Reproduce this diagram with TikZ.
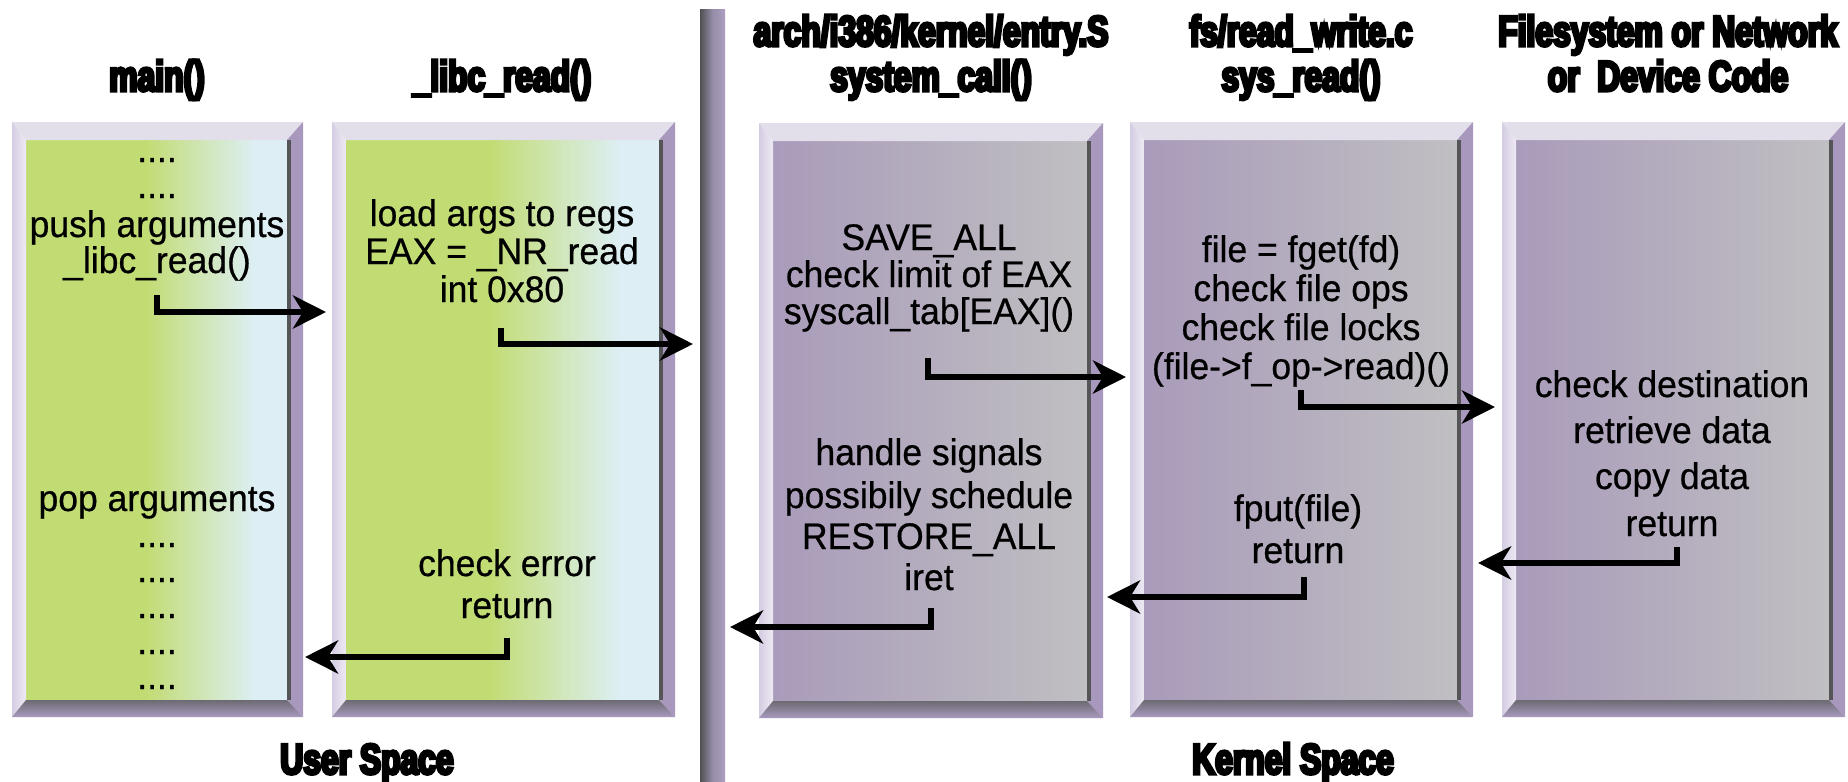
\documentclass[tikz,border=0pt]{standalone}
\usepackage{fontspec}
\setmainfont{Liberation Sans}[FakeStretch=0.96, FakeBold=0.6]
\newfontfamily\titlefont{Liberation Sans}[FakeStretch=0.74, BoldFeatures={FakeBold=7}]
\usetikzlibrary{arrows.meta}

\definecolor{ugreen}{RGB}{194,220,116}
\definecolor{ublue}{RGB}{221,239,245}
\definecolor{kpurple}{RGB}{169,155,186}
\definecolor{kgray}{RGB}{192,191,194}
\definecolor{bevtopc}{RGB}{226,222,234}
\definecolor{bevlA}{RGB}{212,204,226}
\definecolor{bevlB}{RGB}{238,234,244}
\definecolor{bevrightc}{RGB}{168,152,190}
\definecolor{bevdark}{RGB}{85,85,88}
\definecolor{bevbA}{RGB}{108,106,114}
\definecolor{bevbB}{RGB}{168,154,190}
\definecolor{divA}{RGB}{80,80,84}
\definecolor{divB}{RGB}{150,140,168}
\definecolor{divC}{RGB}{172,158,194}

\pgfdeclarehorizontalshading{usershade}{100bp}{color(0bp)=(ugreen); color(25bp)=(ugreen); color(48bp)=(ugreen); color(69bp)=(ublue); color(75bp)=(ublue); color(100bp)=(ublue)}

\newcommand\fourdots{.\kern0pt.\kern0pt.\kern0pt.}

\newcommand\bevbox[5]{%
  \pgfmathsetmacro\bxL{#1+14}\pgfmathsetmacro\bxT{#2+18}%
  \pgfmathsetmacro\bxR{#3-16}\pgfmathsetmacro\bxB{#4-17}%
  \shade[#5] (\bxL,\bxT) rectangle (\bxR,\bxB);
  \fill[bevtopc] (#1,#2) -- (#3,#2) -- (\bxR,\bxT) -- (\bxL,\bxT) -- cycle;
  \shade[left color=bevlA, right color=bevlB] (#1,#2) -- (\bxL,\bxT) -- (\bxL,\bxB) -- (#1,#4) -- cycle;
  \fill[bevrightc] (#3,#2) -- (#3,#4) -- (\bxR,\bxB) -- (\bxR,\bxT) -- cycle;
  \fill[bevdark] (\bxR,\bxT) rectangle ({\bxR+4},\bxB);
  \shade[top color=bevbA, bottom color=bevbB] (#1,#4) -- (\bxL,\bxB) -- (\bxR,\bxB) -- (#3,#4) -- cycle;
}

\tikzset{
  txt/.style={inner sep=0pt, anchor=base, font=\fontsize{37}{40}\selectfont},
  ttl/.style={inner sep=0pt, anchor=base, font=\titlefont\bfseries\fontsize{43}{43}\selectfont},
  arr/.style={line width=6pt, line join=miter, -{Stealth[length=33pt,width=33pt,inset=10pt]}}
}

\begin{document}
\begin{tikzpicture}[x=1pt,y=-1pt]
\useasboundingbox (0,0) rectangle (1848,782);
\fill[white] (0,0) rectangle (1848,782);

% divider
\shade[left color=divA, right color=divC, middle color=divB] (700,9) rectangle (725,782);

% boxes
\bevbox{12}{122}{303}{717}{shading=usershade}
\bevbox{332}{122}{675}{717}{shading=usershade}
\bevbox{759}{123}{1103}{718}{left color=kpurple,right color=kgray}
\bevbox{1130}{122}{1473}{717}{left color=kpurple,right color=kgray}
\bevbox{1502}{122}{1845}{717}{left color=kpurple,right color=kgray}

% titles
\node[ttl] (h1) at (157,91) {main()};
\node[ttl] (h2) at (502,91) {\_libc\_read()};
\node[ttl] (h3a) at (931,46) {arch/i386/kernel/entry.S};
\node[ttl] (h3b) at (931,91) {system\_call()};
\node[ttl] (h4a) at (1301,46) {fs/read\_write.c};
\node[ttl] (h4b) at (1301,91) {sys\_read()};
\node[ttl] (h5a) at (1668,46) {Filesystem or Network};
\node[ttl] (h5b) at (1668,91) {or\ \ Device Code};
\node[ttl] (us) at (367,774) {User Space};
\node[ttl] (ks) at (1293,774) {Kernel Space};

% box texts
\foreach \t/\y [count=\i] in {\fourdots/162, \fourdots/198, push arguments/237, {\_libc\_read()}/273}
  \node[txt] (u1-\i) at (157,\y) {\t};
\foreach \t/\y [count=\i] in {pop arguments/511, \fourdots/547, \fourdots/582, \fourdots/618, \fourdots/654, \fourdots/689}
  \node[txt] (d1-\i) at (157,\y) {\t};
\foreach \t/\y [count=\i] in {load args to regs/226, {EAX = \_NR\_read}/264, int 0x80/302}
  \node[txt] (u2-\i) at (502,\y) {\t};
\foreach \t/\y [count=\i] in {check error/576, return/618}
  \node[txt] (d2-\i) at (507,\y) {\t};
\foreach \t/\y [count=\i] in {{SAVE\_ALL}/250, check limit of EAX/287, {syscall\_tab[EAX]()}/324}
  \node[txt] (u3-\i) at (929,\y) {\t};
\foreach \t/\y [count=\i] in {handle signals/465, possibily schedule/508, {RESTORE\_ALL}/549, iret/590}
  \node[txt] (d3-\i) at (929,\y) {\t};
\foreach \t/\y [count=\i] in {{file = fget(fd)}/262, check file ops/301, check file locks/340, {(file->f\_op->read)()}/379}
  \node[txt] (u4-\i) at (1301,\y) {\t};
\foreach \t/\y [count=\i] in {fput(file)/521, return/563}
  \node[txt] (d4-\i) at (1298,\y) {\t};
\foreach \t/\y [count=\i] in {check destination/397, retrieve data/443, copy data/489, return/536}
  \node[txt] (d5-\i) at (1672,\y) {\t};

% arrow end points
\coordinate (a1s) at (157,295);  \coordinate (a1e) at (326,312);
\coordinate (a2s) at (501,328);  \coordinate (a2e) at (693,344);
\coordinate (a3s) at (928,358);  \coordinate (a3e) at (1126,377);
\coordinate (a4s) at (1301,390); \coordinate (a4e) at (1495,407);
\coordinate (a5s) at (1677,547); \coordinate (a5e) at (1478,563);
\coordinate (a6s) at (1304,577); \coordinate (a6e) at (1107,597);
\coordinate (a7s) at (931,608);  \coordinate (a7e) at (730,627);
\coordinate (a8s) at (507,638);  \coordinate (a8e) at (305,657);

\foreach \k in {1,...,8}
  \draw[arr] (a\k s) |- (a\k e);
\end{tikzpicture}
\end{document}
